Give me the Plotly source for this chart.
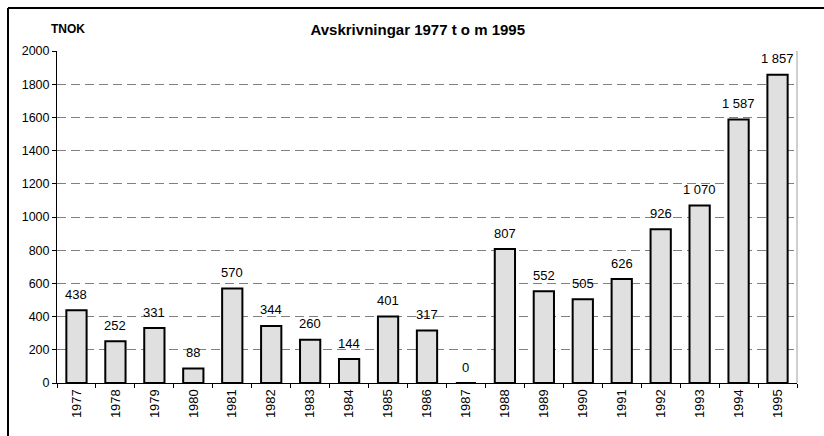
import plotly.graph_objects as go

years = ["1977", "1978", "1979", "1980", "1981", "1982", "1983", "1984", "1985", "1986",
         "1987", "1988", "1989", "1990", "1991", "1992", "1993", "1994", "1995"]
values = [438, 252, 331, 88, 570, 344, 260, 144, 401, 317,
          0, 807, 552, 505, 626, 926, 1070, 1587, 1857]
title_text = "Avskrivningar 1977 t o m 1995"
unit_text = "TNOK"

FONT = "Arial, Liberation Sans, sans-serif"

def fmt(v):
    return f"{v:,}".replace(",", " ")

fig = go.Figure()
fig.add_trace(go.Bar(
    x=years, y=values,
    marker=dict(color="#e0e0e0", line=dict(color="black", width=2)),
    width=0.52,
    hoverinfo="skip",
))

for i, v in enumerate(values):
    fig.add_annotation(x=i, y=v, text=fmt(v), showarrow=False,
                       yanchor="middle", yshift=16,
                       font=dict(family=FONT, size=13, color="black"))

fig.update_layout(
    width=824, height=436,
    margin=dict(l=57, r=27, t=51, b=53),
    paper_bgcolor="white", plot_bgcolor="white",
    showlegend=False,
    font=dict(family=FONT, size=12, color="black"),
    title=dict(text="<b>" + title_text + "</b>", x=0.507, xanchor="center",
               y=1 - 30 / 436, yanchor="middle",
               font=dict(family=FONT, size=15, color="black")),
)

fig.update_xaxes(
    type="category", tickangle=-90, tickson="boundaries",
    range=[-0.5, len(years) - 0.5],
    ticks="outside", ticklen=4, tickcolor="black", tickwidth=1,
    showline=True, linecolor="black", linewidth=1,
    showgrid=False, tickfont=dict(family=FONT, size=13, color="black"),
)
fig.update_yaxes(
    range=[0, 2000], dtick=200, tick0=0,
    ticks="outside", ticklen=4, tickcolor="black", tickwidth=1,
    showline=True, linecolor="black", linewidth=1,
    showgrid=True, gridcolor="#808080", gridwidth=1, griddash="9px,5px",
    zeroline=False, tickfont=dict(family=FONT, size=12.5, color="black"),
)

# right border of plot area
fig.add_shape(type="line", xref="paper", yref="paper", x0=1, x1=1, y0=0, y1=1,
              line=dict(color="#a0a0a0", width=1))
# outer frame (top and left)
fx = (8 - 57) / 740
fy = 1 + (51 - 8) / 332
fig.add_shape(type="line", xref="paper", yref="paper", x0=fx, x1=1.1, y0=fy, y1=fy,
              line=dict(color="black", width=2))
fig.add_shape(type="line", xref="paper", yref="paper", x0=fx, x1=fx, y0=fy, y1=-0.3,
              line=dict(color="black", width=2))

fig.add_annotation(xref="paper", yref="paper", x=(49 - 57) / 740, xanchor="left",
                   y=1 + (51 - 29) / 332, yanchor="middle", showarrow=False,
                   text="<b>" + unit_text + "</b>",
                   font=dict(family=FONT, size=12, color="black"))

fig.write_html("out.html", config={"displayModeBar": False},
               post_script="document.body.style.margin='0';document.body.style.overflow='hidden';")
